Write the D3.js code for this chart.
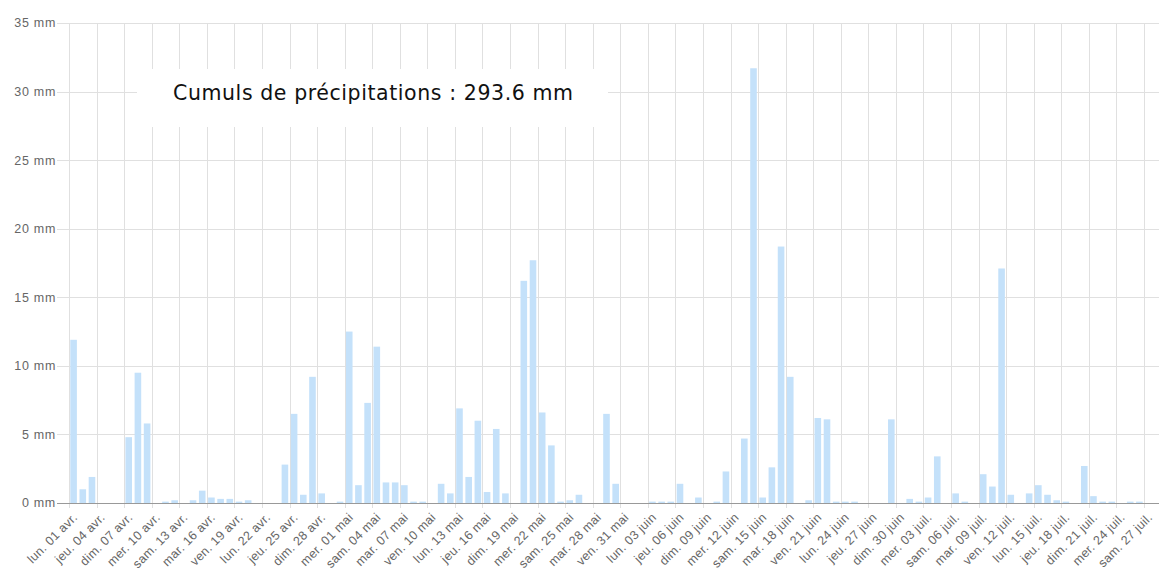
<!DOCTYPE html>
<html><head><meta charset="utf-8">
<script src="https://cdn.jsdelivr.net/npm/d3@7"></script>
<style>
html,body{margin:0;padding:0;background:#fff;}
svg{display:block;}
</style></head>
<body>
<svg id="c" width="1159" height="577"></svg>
<script>
// Daily precipitation (mm), one value per day starting 2024-04-01
const startDate = "2024-04-01";
const endDate = "2024-07-29";
const aprilValues = [11.9,1.0,1.9,0,0,0,4.8,9.5,5.8,0,0.1,0.2,0,0.2,0.9,0.4,0.3,0.3,0.1,0.2,0,0,0,2.8,6.5,0.6,9.2,0.7,0,0.1];
const mayValues = [12.5,1.3,7.3,11.4,1.5,1.5,1.3,0.1,0.1,0,1.4,0.7,6.9,1.9,6.0,0.8,5.4,0.7,0,16.2,17.7,6.6,4.2,0.1,0.2,0.6,0,0,6.5,1.4,0];
const juneValues = [0,0,0.1,0.1,0.1,1.4,0,0.4,0,0.1,2.3,0,4.7,31.7,0.4,2.6,18.7,9.2,0,0.2,6.2,6.1,0.1,0.1,0.1,0,0,0,6.1,0];
const julyValues = [0.3,0.1,0.4,3.4,0,0.7,0.1,0,2.1,1.2,17.1,0.6,0,0.7,1.3,0.6,0.2,0.1,0,2.7,0.5,0.1,0.1,0,0.1,0.1,0,0];
const yTicks = [0,5,10,15,20,25,30,35];
const totalLabel = "Cumuls de précipitations : 293.6 mm";

const values = [].concat(aprilValues, mayValues, juneValues, julyValues);
const parse = d3.timeParse("%Y-%m-%d");
const t0 = parse(startDate), t1 = parse(endDate);
const data = values.map((v,i)=>({date:d3.timeDay.offset(t0,i), value:v}));

const fr = d3.timeFormatLocale({
  dateTime:"%A %e %B %Y à %X", date:"%d/%m/%Y", time:"%H:%M:%S", periods:["AM","PM"],
  days:["dimanche","lundi","mardi","mercredi","jeudi","vendredi","samedi"],
  shortDays:["dim.","lun.","mar.","mer.","jeu.","ven.","sam."],
  months:["janvier","février","mars","avril","mai","juin","juillet","août","septembre","octobre","novembre","décembre"],
  shortMonths:["janv.","févr.","mars","avr.","mai","juin","juil.","août","sept.","oct.","nov.","déc."]
});
const fmt = fr.format("%a %d %b");

const svg = d3.select("#c");
const mLeft = 69, mTop = 23, mBottom = 503, mRight = 1159;
const pxPerDay = 9.188;
const x = d3.scaleTime().domain([t0, t1]).range([mLeft, mLeft + pxPerDay*d3.timeDay.count(t0,t1)]);
const y = d3.scaleLinear().domain([0,35]).range([mBottom, mTop]);

const tickDates = d3.timeDay.range(t0, t1).filter((d,i)=>i%3===0);

const grid = svg.append("g");
grid.selectAll("line.h").data(yTicks).join("line")
  .attr("x1",57).attr("x2",mRight).attr("y1",d=>Math.round(y(d))+0.5).attr("y2",d=>Math.round(y(d))+0.5)
  .attr("stroke","#e0e0e0").attr("stroke-width",1);
grid.selectAll("line.v").data(tickDates).join("line")
  .attr("x1",d=>Math.round(x(d))+0.5).attr("x2",d=>Math.round(x(d))+0.5)
  .attr("y1",mTop).attr("y2",mBottom+5)
  .attr("stroke","#e0e0e0").attr("stroke-width",1);

svg.append("g").selectAll("text").data(yTicks).join("text")
  .attr("x",56).attr("y",d=>y(d)).attr("dy","0.35em")
  .attr("text-anchor","end")
  .attr("font-family","Liberation Sans, Arial, sans-serif").attr("font-size",12.5)
  .attr("letter-spacing","0.7px")
  .attr("fill","#666").text(d=>d+" mm");

svg.append("rect").attr("x",137).attr("y",69).attr("width",471).attr("height",58).attr("fill","#fff");
svg.append("text").attr("x",173).attr("y",100)
  .attr("font-family","DejaVu Sans, Verdana, sans-serif").attr("font-size",20.5)
  .attr("textLength",400).attr("lengthAdjust","spacing")
  .attr("fill","#111").text(totalLabel);

const bw = 6.6;
svg.append("g").selectAll("rect").data(data.filter(d=>d.value>0)).join("rect")
  .attr("x",d=>x(d.date) + (pxPerDay-bw)/2)
  .attr("width",bw)
  .attr("y",d=>y(d.value))
  .attr("height",d=>y(0)-y(d.value))
  .attr("fill","#c4e1fa");

svg.append("line").attr("x1",57).attr("x2",mRight).attr("y1",mBottom+0.5).attr("y2",mBottom+0.5)
  .attr("stroke","#999").attr("stroke-width",1);

svg.append("g").selectAll("text").data(tickDates).join("text")
  .attr("transform",d=>`translate(${x(d)+3},${mBottom+9}) rotate(-45)`)
  .attr("text-anchor","end").attr("dy","0.7em")
  .attr("font-family","Liberation Sans, Arial, sans-serif").attr("font-size",12.5)
  .attr("letter-spacing","0.3px")
  .attr("fill","#666").text(d=>fmt(d));
</script>
</body></html>
